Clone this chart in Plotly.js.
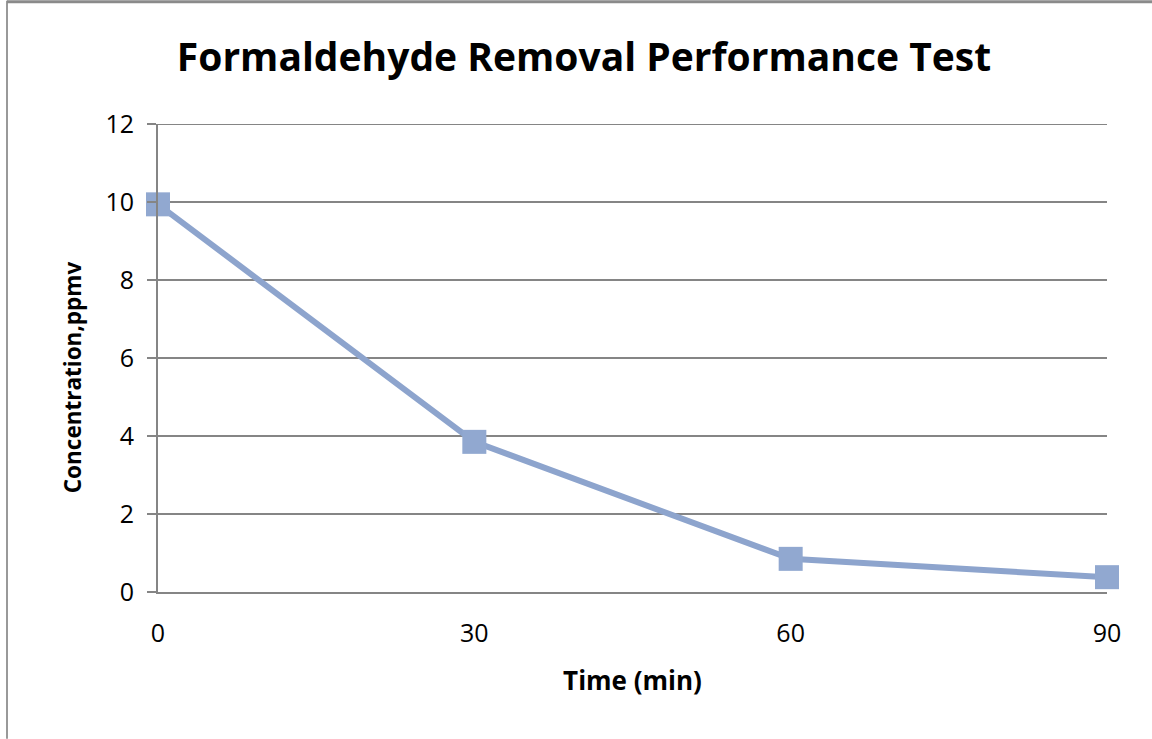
<!DOCTYPE html>
<html>
<head>
<meta charset="utf-8">
<script src="https://cdn.plot.ly/plotly-3.0.1.min.js"></script>
<style>
html,body{margin:0;padding:0;background:#fff;}
#chart{width:1152px;height:739px;}
</style>
</head>
<body>
<div id="chart"></div>
<script>
const timeMin = [0, 30, 60, 90];
const concentration = [9.94, 3.85, 0.85, 0.38];
const yTicks = [0, 2, 4, 6, 8, 10, 12];
const xTicks = [0, 30, 60, 90];

const gray = '#858585';
const blue = '#8DA4CD';

const trace = {
  x: timeMin,
  y: concentration,
  type: 'scatter',
  mode: 'lines+markers',
  line: {color: blue, width: 6},
  marker: {symbol: 'square', size: 24, color: '#91A8D0', line: {width: 0}},
  cliponaxis: false,
  hoverinfo: 'skip'
};

const plotW = 1107 - 158, plotH = 592 - 123.5;
const yMax = yTicks[yTicks.length - 1];

const layout = {
  width: 1152, height: 739,
  margin: {l: 158, r: 45, t: 123.5, b: 147, pad: 0},
  paper_bgcolor: '#fff', plot_bgcolor: '#fff',
  showlegend: false,
  title: {
    text: 'Formaldehyde Removal Performance Test',
    font: {family: 'Open Sans', size: 39, color: '#000', weight: 'bold'},
    x: 584 / 1152, xanchor: 'center',
    y: 1 - 57 / 739, yanchor: 'middle'
  },
  xaxis: {
    range: [0, 90],
    tickvals: xTicks,
    ticktext: xTicks.map(String),
    showgrid: false, zeroline: false,
    showline: true, linecolor: gray, linewidth: 2,
    ticks: '', ticklabelstandoff: 18,
    tickfont: {family: 'Open Sans', size: 25, color: '#000'},
    title: {text: 'Time (min)', font: {family: 'Open Sans', size: 26, color: '#000', weight: 'bold'}, standoff: 24},
    fixedrange: true
  },
  yaxis: {
    range: [0, yMax],
    tickvals: yTicks,
    ticktext: yTicks.map(String),
    showgrid: true, gridcolor: gray, gridwidth: 2,
    zeroline: false,
    showline: true, linecolor: gray, linewidth: 2,
    ticks: 'outside', ticklen: 9, tickwidth: 2, tickcolor: gray,
    ticklabelstandoff: 8,
    tickfont: {family: 'Open Sans', size: 25, color: '#000'},
    fixedrange: true
  },
  annotations: [
    {text: 'Concentration,ppmv', xref: 'paper', yref: 'paper',
     x: (72 - 158) / plotW, y: 1 - (377 - 123.5) / plotH,
     xanchor: 'center', yanchor: 'middle', textangle: -90, showarrow: false,
     font: {family: 'Open Sans', size: 22.5, color: '#000', weight: 'bold'}}
  ],
  shapes: [
    {type: 'line', xref: 'x', yref: 'y', x0: 0, x1: 90, y0: yMax, y1: yMax,
     line: {color: gray, width: 2}, layer: 'below'},
    {type: 'line', xref: 'paper', yref: 'paper',
     x0: (7 - 158) / plotW, x1: (7 - 158) / plotW,
     y0: 1 + (123.5 - 0) / plotH, y1: 1 - (739 - 123.5) / plotH,
     line: {color: '#999', width: 2}},
    {type: 'line', xref: 'paper', yref: 'paper',
     x0: (7 - 158) / plotW, x1: (1152 - 158) / plotW,
     y0: 1 + (123.5 - 1) / plotH, y1: 1 + (123.5 - 1) / plotH,
     line: {color: '#8a8a8a', width: 3}}
  ]
};

Plotly.newPlot('chart', [trace], layout, {displayModeBar: false, staticPlot: true});
</script>
</body>
</html>
